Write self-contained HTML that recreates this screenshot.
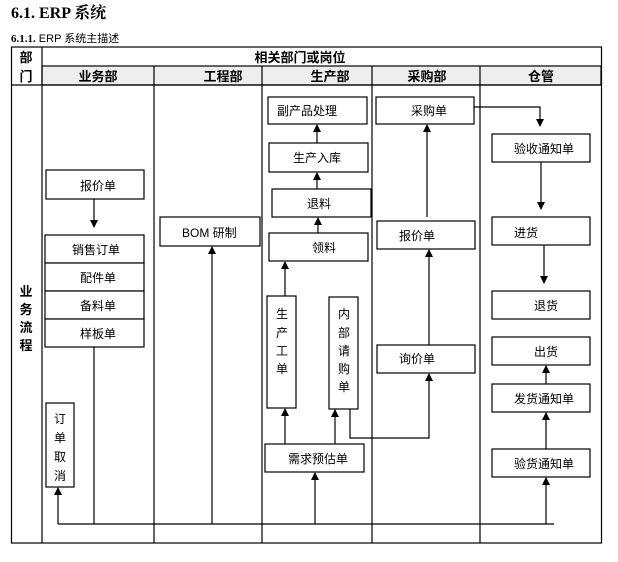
<!DOCTYPE html>
<html><head><meta charset="utf-8"><style>
body{margin:0;background:#fff;width:618px;height:557px;overflow:hidden}
svg text{font-family:"Liberation Sans","Noto Sans CJK SC",sans-serif;fill:#000}
</style></head><body>
<svg width="618" height="557" viewBox="0 0 618 557" xmlns="http://www.w3.org/2000/svg">
<defs><marker id="a" markerWidth="8" markerHeight="8" refX="4" refY="7" orient="0" markerUnits="userSpaceOnUse"><path d="M0,0 L8,0 L4,8 z" fill="#000"/></marker>
<marker id="u" markerWidth="8" markerHeight="8" refX="4" refY="1" orient="0" markerUnits="userSpaceOnUse"><path d="M4,0 L8,8 L0,8 z" fill="#000"/></marker></defs>
<text x="11" y="18" font-size="16" font-weight="bold" style="font-family:'Liberation Serif','Noto Serif CJK SC',serif">6.1. ERP 系统</text>
<text x="11" y="42" font-size="11"><tspan font-weight="bold" style="font-family:'Liberation Serif',serif">6.1.1.</tspan>  ERP 系统主描述</text>
<g fill="none" stroke="#000" stroke-width="1.2">
<rect x="11.5" y="47" width="590" height="496"/>
<rect x="42" y="66" width="559" height="19" fill="#eee"/>
<line x1="42" y1="47" x2="42" y2="543"/>
<line x1="11" y1="85" x2="601" y2="85"/>
<line x1="154" y1="66" x2="154" y2="543"/><line x1="262" y1="66" x2="262" y2="543"/>
<line x1="372" y1="66" x2="372" y2="543"/><line x1="480" y1="66" x2="480" y2="543"/>
</g>
<g font-size="13" font-weight="bold" text-anchor="middle">
<text x="26" y="62">部</text><text x="26" y="81">门</text>
<text x="300" y="62">相关部门或岗位</text>
<text x="98" y="81">业务部</text><text x="223" y="81">工程部</text><text x="330" y="81">生产部</text><text x="427" y="81">采购部</text><text x="541" y="81">仓管</text>
<text x="26" y="296">业</text><text x="26" y="314">务</text><text x="26" y="332">流</text><text x="26" y="350">程</text>
</g>
<g fill="#fff" stroke="#000" stroke-width="1.2">
<rect x="268" y="97" width="99" height="27"/><rect x="269" y="143" width="99" height="29"/>
<rect x="272" y="189" width="99" height="28"/><rect x="269" y="233" width="99" height="28"/>
<rect x="376" y="97" width="98" height="27"/><rect x="377" y="221" width="98" height="28"/>
<rect x="492" y="134" width="98" height="28"/><rect x="492" y="217" width="98" height="28"/>
<rect x="46" y="170" width="98" height="29"/>
<rect x="45" y="235" width="99" height="28"/><rect x="45" y="263" width="99" height="28"/>
<rect x="45" y="291" width="99" height="28"/><rect x="45" y="319" width="99" height="28"/>
<rect x="160" y="217" width="100" height="29"/>
<rect x="492" y="291" width="98" height="28"/><rect x="492" y="337" width="98" height="28"/>
<rect x="492" y="384" width="98" height="28"/><rect x="492" y="449" width="98" height="28"/>
<rect x="267" y="296" width="29" height="112"/><rect x="329" y="297" width="29" height="112"/>
<rect x="377" y="345" width="98" height="28"/><rect x="265" y="444" width="99" height="28"/>
<rect x="46" y="403" width="28" height="84"/>
</g>
<g font-size="12">
<text x="277" y="115">副产品处理</text><text x="293" y="162">生产入库</text><text x="307" y="208">退料</text><text x="312" y="252">领料</text>
<text x="411" y="115">采购单</text><text x="399" y="240">报价单</text>
<text x="514" y="153">验收通知单</text><text x="514" y="237">进货</text>
<text x="80" y="190">报价单</text><text x="72" y="254">销售订单</text><text x="80" y="282">配件单</text>
<text x="80" y="310">备料单</text><text x="80" y="338">样板单</text>
<text x="182" y="237">BOM 研制</text>
<text x="534" y="310">退货</text><text x="534" y="356">出货</text><text x="514" y="403">发货通知单</text><text x="514" y="468">验货通知单</text>
<text x="399" y="363">询价单</text><text x="288" y="463">需求预估单</text>
</g>
<g font-size="12" text-anchor="middle">
<text x="282" y="318">生</text><text x="282" y="337">产</text><text x="282" y="355">工</text><text x="282" y="373">单</text>
<text x="344" y="318">内</text><text x="344" y="337">部</text><text x="344" y="355">请</text><text x="344" y="373">购</text><text x="344" y="391">单</text>
<text x="60" y="423">订</text><text x="60" y="442">单</text><text x="60" y="461">取</text><text x="60" y="480">消</text>
</g>
<g stroke="#000" stroke-width="1.2" fill="none">
<polyline points="58,524 554,524"/>
<line x1="94" y1="347" x2="94" y2="524"/>
<line x1="94" y1="199" x2="94" y2="227" marker-end="url(#a)"/>
<line x1="58" y1="524" x2="58" y2="488" marker-end="url(#u)"/>
<line x1="212" y1="524" x2="212" y2="247" marker-end="url(#u)"/>
<line x1="315" y1="524" x2="315" y2="473" marker-end="url(#u)"/>
<line x1="285" y1="444" x2="285" y2="409" marker-end="url(#u)"/>
<line x1="285" y1="296" x2="285" y2="262" marker-end="url(#u)"/>
<line x1="335" y1="444" x2="335" y2="410" marker-end="url(#u)"/>
<polyline points="350,409 350,438 429,438 429,374" marker-end="url(#u)"/>
<line x1="429" y1="345" x2="429" y2="250" marker-end="url(#u)"/>
<line x1="427" y1="217" x2="427" y2="125" marker-end="url(#u)"/>
<polyline points="474,107 540,107 540,126" marker-end="url(#a)"/>
<line x1="541" y1="162" x2="541" y2="209" marker-end="url(#a)"/>
<line x1="544" y1="245" x2="544" y2="283" marker-end="url(#a)"/>
<line x1="546" y1="524" x2="546" y2="478" marker-end="url(#u)"/>
<line x1="546" y1="449" x2="546" y2="413" marker-end="url(#u)"/>
<line x1="546" y1="384" x2="546" y2="366" marker-end="url(#u)"/>
<line x1="318" y1="233" x2="318" y2="218" marker-end="url(#u)"/>
<line x1="317" y1="189" x2="317" y2="173" marker-end="url(#u)"/>
<line x1="317" y1="143" x2="317" y2="125" marker-end="url(#u)"/>
</g>
</svg>
</body></html>
